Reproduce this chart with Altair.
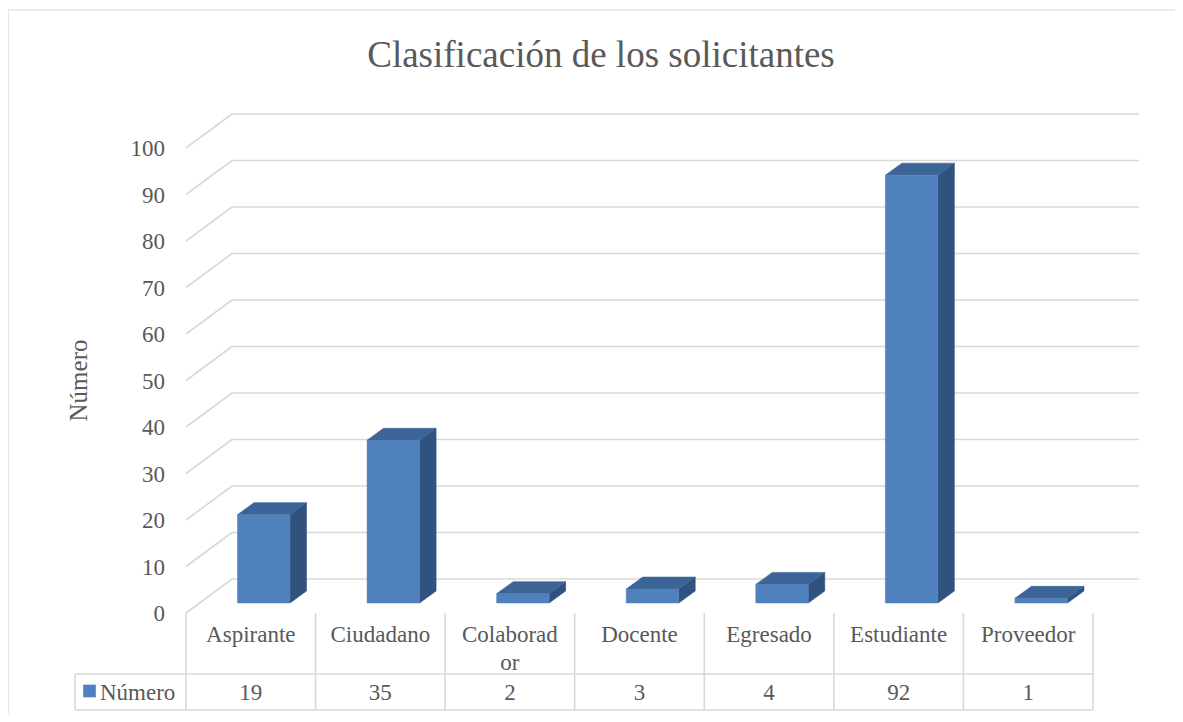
import altair as alt
import pandas as pd

# ---------------- data ----------------
categories = ["Aspirante", "Ciudadano", "Colaborador", "Docente", "Egresado", "Estudiante", "Proveedor"]
category_labels = ["Aspirante", "Ciudadano", "Colaborad\nor", "Docente", "Egresado", "Estudiante", "Proveedor"]
values = [19, 35, 2, 3, 4, 92, 1]
y_ticks = [0, 10, 20, 30, 40, 50, 60, 70, 80, 90, 100]
series_name = "Número"
title_text = "Clasificación de los solicitantes"

# ---------------- style / layout ----------------
FONT = "Liberation Serif"
GRAY = "#595959"
LINE = "#d9d9d9"
FRONT = "#4F81BD"
TOP = "#3C6496"
SIDE = "#30527F"

W, H = 1167, 704
PX_PER_CAT = 129.57      # pixels per category along x
PX_PER_UNIT = 4.65       # pixels per value unit along y
LEFT_PX = 178            # where category 0 starts, from plot left
ZERO_PX = 603            # where value 0 (front) sits, from plot top


def ux(p):
    return p / PX_PER_CAT


def uy(p):
    return p / PX_PER_UNIT


XMIN = -ux(LEFT_PX)
XMAX = XMIN + ux(W)
YMAX = uy(ZERO_PX)
YMIN = YMAX - uy(H)

WALL_DX, WALL_DY = ux(46), uy(34)
BAR_L, BAR_W = ux(51.5), ux(52.5)
BASE = uy(10)
DEP_X, DEP_Y = ux(16.5), uy(12)
ROW1, ROW2 = -uy(61), -uy(97)
LEG_X = -ux(111)
YTITLE_X = -ux(107)
N = len(categories)

xs = alt.Scale(domain=[XMIN, XMAX], nice=False, zero=False)
ys = alt.Scale(domain=[YMIN, YMAX], nice=False, zero=False)


def X(f):
    return alt.X(f, type="quantitative", scale=xs, axis=None, stack=None)


def X2(f):
    return alt.X2(f)


def Y(f):
    return alt.Y(f, type="quantitative", scale=ys, axis=None, stack=None)


def Y2(f):
    return alt.Y2(f)


def XD(v):
    return alt.X(datum=v, type="quantitative", scale=xs, axis=None)


def YD(v):
    return alt.Y(datum=v, type="quantitative", scale=ys, axis=None)


# ---------------- tables built from the arrays ----------------
bars = pd.DataFrame({"i": range(N), "cat": categories, "label": category_labels, "v": values})
bars["x0"] = bars["i"] + BAR_L
bars["x1"] = bars["i"] + BAR_L + BAR_W
bars["y0"] = BASE
bars["y1"] = BASE + bars["v"]
bars["xc"] = bars["i"] + 0.5

side_rows, top_rows = [], []
for i, c, v in zip(range(N), categories, values):
    side_rows.append({"cat": c, "x": i + BAR_L + BAR_W, "y": BASE + v, "y2": BASE})
    side_rows.append({"cat": c, "x": i + BAR_L + BAR_W + DEP_X, "y": BASE + v + DEP_Y, "y2": BASE + DEP_Y})
    top_rows.append({"cat": c, "y": BASE + v, "x": i + BAR_L, "x2": i + BAR_L + BAR_W})
    top_rows.append({"cat": c, "y": BASE + v + DEP_Y, "x": i + BAR_L + DEP_X, "x2": i + BAR_L + BAR_W + DEP_X})
side_df = pd.DataFrame(side_rows)
top_df = pd.DataFrame(top_rows)

ticks_df = pd.DataFrame({"t": y_ticks})
ticks_df["bx"] = WALL_DX
ticks_df["bx2"] = N + WALL_DX
ticks_df["by"] = ticks_df["t"] + WALL_DY
ticks_df["sx"] = 0.0

table_lines = [
    {"x": LEG_X, "x2": N, "y": ROW1, "y2": ROW1},
    {"x": LEG_X, "x2": N, "y": ROW2, "y2": ROW2},
    {"x": LEG_X, "x2": LEG_X, "y": ROW1, "y2": ROW2},
]
for k in range(N + 1):
    table_lines.append({"x": k, "x2": k, "y": 0.0, "y2": ROW2})
table_df = pd.DataFrame(table_lines)

# ---------------- layers ----------------
one = pd.DataFrame({"a": [0]})
border_left = alt.Chart(one).mark_rule(color=LINE, strokeWidth=1.2).encode(x=XD(XMIN))
border_top = alt.Chart(one).mark_rule(color=LINE, strokeWidth=1.2).encode(y=YD(YMAX))

back = alt.Chart(ticks_df).mark_rule(color=LINE, strokeWidth=1.6).encode(
    x=X("bx"), x2=X2("bx2"), y=Y("by"), y2=Y2("by"))
diag = alt.Chart(ticks_df).mark_rule(color=LINE, strokeWidth=1.6).encode(
    x=X("sx"), x2=X2("bx"), y=Y("t"), y2=Y2("by"))
tick_labels = alt.Chart(ticks_df).mark_text(
    font=FONT, fontSize=23, color=GRAY, align="right", baseline="middle", dx=-21, dy=1).encode(
    x=X("sx"), y=Y("t"), text="t:Q")
y_title = alt.Chart(pd.DataFrame({"name": [series_name]})).mark_text(
    font=FONT, fontSize=25, color=GRAY, align="center", baseline="middle", angle=270).encode(
    x=XD(YTITLE_X), y=YD((y_ticks[0] + y_ticks[-1]) / 2), text="name:N")

side = alt.Chart(side_df).mark_area(orient="vertical", color=SIDE, stroke=SIDE, strokeWidth=0.6).encode(
    x=X("x"), y=Y("y"), y2=Y2("y2"), detail="cat:N")
topf = alt.Chart(top_df).mark_area(orient="horizontal", color=TOP, stroke=TOP, strokeWidth=0.6).encode(
    y=Y("y"), x=X("x"), x2=X2("x2"), detail="cat:N")
front = alt.Chart(bars).mark_rect(color=FRONT, stroke=FRONT, strokeWidth=0.5).encode(
    x=X("x0"), x2=X2("x1"), y=Y("y0"), y2=Y2("y1"))

table = alt.Chart(table_df).mark_rule(color=LINE, strokeWidth=1.6).encode(
    x=X("x"), x2=X2("x2"), y=Y("y"), y2=Y2("y2"))

cat_text = alt.Chart(bars).mark_text(
    font=FONT, fontSize=23, color=GRAY, align="center", baseline="alphabetic",
    dy=29, lineBreak="\n", lineHeight=28).encode(
    x=X("xc"), y=YD(0), text="label:N")
val_text = alt.Chart(bars).mark_text(
    font=FONT, fontSize=23, color=GRAY, align="center", baseline="alphabetic", dy=87).encode(
    x=X("xc"), y=YD(0), text="v:Q")

leg = pd.DataFrame({"name": [series_name], "xs": [LEG_X + ux(14.5)], "xt": [LEG_X + ux(25)]})
leg_sq = alt.Chart(leg).mark_square(color=FRONT, size=160, opacity=1, yOffset=78).encode(
    x=X("xs"), y=YD(0))
leg_tx = alt.Chart(leg).mark_text(
    font=FONT, fontSize=23, color=GRAY, align="left", baseline="alphabetic", dy=87).encode(
    x=X("xt"), y=YD(0), text="name:N")

chart = alt.layer(
    border_left, border_top, back, diag, tick_labels, y_title,
    side, topf, front, table, cat_text, val_text, leg_sq, leg_tx
).properties(
    width=W, height=H,
    title=alt.TitleParams(text=title_text, font=FONT, fontSize=37, fontWeight="normal", color=GRAY,
                          anchor="middle", offset=0, dy=95, dx=9.5, baseline="alphabetic"),
    autosize=alt.AutoSizeParams(type="none"),
    padding={"left": 0, "top": 2, "right": 0, "bottom": 0},
).configure_view(stroke=None)

chart.save("out.html", embed_options={"renderer": "svg", "actions": False})
